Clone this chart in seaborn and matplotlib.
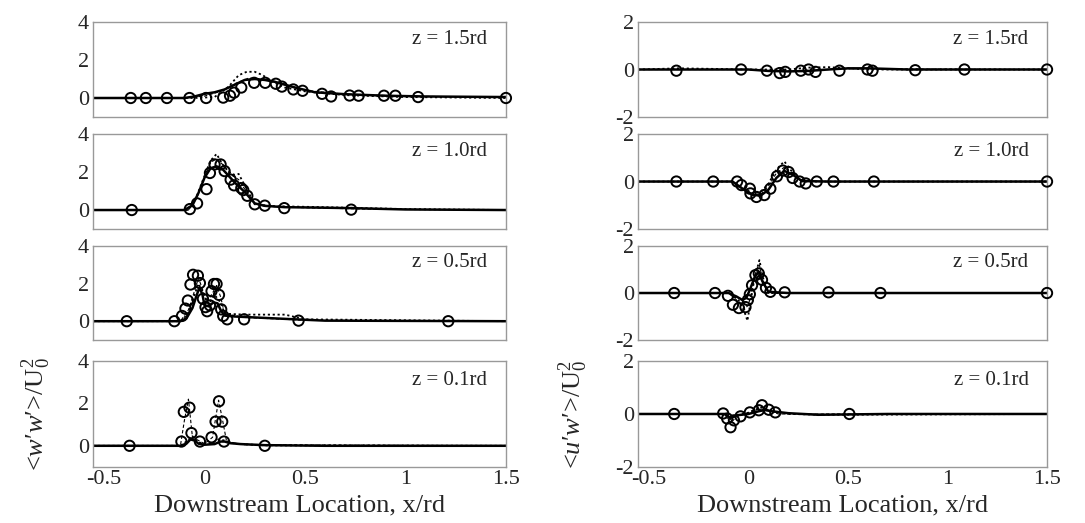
import matplotlib
matplotlib.use('Agg')
import matplotlib.pyplot as plt
import numpy as np
import pandas as pd
import seaborn as sns
from matplotlib.ticker import MultipleLocator

sns.set_style('white')
plt.rcParams['font.family'] = ['Liberation Serif', 'DejaVu Serif']
plt.rcParams['mathtext.fontset'] = 'custom'
plt.rcParams['mathtext.rm'] = 'Liberation Serif'
plt.rcParams['mathtext.it'] = 'Liberation Serif:italic'
plt.rcParams['axes.unicode_minus'] = False

levels = ['z = 1.5rd', 'z = 1.0rd', 'z = 0.5rd', 'z = 0.1rd']

# ---- <w'w'>/U0^2 (left column) ----
ww_exp_x = [
    [-0.367, -0.292, -0.187, -0.075, 0.008, 0.093, 0.127, 0.147, 0.183, 0.247, 0.302, 0.355,
     0.385, 0.442, 0.488, 0.585, 0.63, 0.722, 0.767, 0.893, 0.95, 1.063, 1.5],
    [-0.362, -0.073, -0.037, 0.01, 0.027, 0.05, 0.08, 0.1, 0.13, 0.147, 0.183, 0.193, 0.213,
     0.25, 0.3, 0.397, 0.73],
    [-0.387, -0.15, -0.112, -0.095, -0.083, -0.07, -0.057, -0.033, -0.023, -0.008, 0.005, 0.013,
     0.027, 0.035, 0.047, 0.06, 0.072, 0.083, 0.093, 0.113, 0.197, 0.468, 1.213],
    [-0.373, -0.115, -0.103, -0.075, -0.065, -0.023, 0.035, 0.055, 0.072, 0.088, 0.097, 0.3],
]
ww_exp_y = [
    [0.0, 0.0, 0.0, 0.0, 0.0, 0.02, 0.12, 0.28, 0.55, 0.8, 0.8, 0.75, 0.6, 0.45, 0.38, 0.22,
     0.08, 0.13, 0.12, 0.12, 0.12, 0.05, 0.0],
    [0.0, 0.05, 0.35, 1.1, 1.95, 2.4, 2.4, 2.05, 1.6, 1.3, 1.15, 1.05, 0.75, 0.3, 0.23, 0.1, 0.02],
    [0.0, 0.0, 0.28, 0.67, 1.1, 1.95, 2.47, 2.42, 2.03, 1.19, 0.75, 0.53, 0.84, 1.6, 1.98, 1.98,
     1.4, 0.63, 0.28, 0.1, 0.1, 0.03, 0.0],
    [0.0, 0.2, 1.6, 1.8, 0.6, 0.2, 0.4, 1.14, 2.1, 1.14, 0.2, 0.0],
]
ww_solid_x = [
    [-0.555, -0.1, -0.05, 0.0, 0.05, 0.1, 0.15, 0.2, 0.25, 0.3, 0.35, 0.45, 0.55, 0.7, 0.9, 1.1, 1.5],
    [-0.555, -0.1, -0.06, -0.03, 0.0, 0.03, 0.06, 0.09, 0.12, 0.15, 0.2, 0.25, 0.3, 0.4, 0.55, 0.73, 1.0, 1.5],
    [-0.555, -0.12, -0.09, -0.06, -0.04, -0.025, -0.01, 0.0, 0.02, 0.045, 0.065, 0.08, 0.1, 0.15,
     0.25, 0.45, 0.6, 1.5],
    [-0.555, -0.12, -0.09, -0.07, -0.05, -0.03, 0.0, 0.05, 0.08, 0.1, 0.13, 0.18, 0.3, 0.6, 1.5],
]
ww_solid_y = [
    [0.0, 0.0, 0.08, 0.22, 0.3, 0.45, 0.7, 0.95, 1.0, 0.95, 0.85, 0.55, 0.3, 0.2, 0.12, 0.08, 0.05],
    [0.0, 0.0, 0.25, 0.9, 1.7, 2.2, 2.3, 2.15, 1.8, 1.45, 0.95, 0.35, 0.22, 0.15, 0.13, 0.1, 0.03, 0.0],
    [0.0, 0.0, 0.15, 0.7, 1.35, 1.8, 1.4, 0.85, 0.8, 1.0, 0.95, 0.6, 0.3, 0.25, 0.2, 0.1, 0.03, 0.0],
    [0.0, 0.0, 0.1, 0.3, 0.25, 0.1, 0.05, 0.08, 0.2, 0.2, 0.12, 0.08, 0.03, 0.0, 0.0],
]
ww_dash_x = [
    [-0.555, -0.1, 0.0, 0.08, 0.15, 0.22, 0.3, 0.38, 0.5, 0.7, 1.0, 1.5],
    [-0.555, -0.08, -0.04, 0.0, 0.03, 0.06, 0.1, 0.14, 0.17, 0.2, 0.25, 0.3, 0.5, 0.8, 1.5],
    [-0.555, -0.12, -0.08, -0.05, -0.03, -0.01, 0.01, 0.04, 0.06, 0.08, 0.1, 0.2, 0.5, 1.5],
    [-0.555, -0.12, -0.1, -0.08, -0.06, 0.0, 0.04, 0.07, 0.09, 0.11, 0.2, 1.5],
]
ww_dash_y = [
    [0.0, 0.0, 0.1, 0.35, 0.75, 1.05, 1.0, 0.8, 0.4, 0.2, 0.1, 0.03],
    [0.0, 0.0, 0.6, 1.7, 2.5, 2.7, 2.3, 1.8, 1.6, 1.1, 0.35, 0.2, 0.12, 0.05, 0.0],
    [0.0, 0.0, 0.6, 1.6, 2.3, 1.7, 1.0, 1.5, 1.9, 1.3, 0.4, 0.2, 0.05, 0.0],
    [0.0, 0.0, 1.2, 2.2, 0.4, 0.1, 0.4, 2.15, 1.2, 0.2, 0.05, 0.0],
]
ww_dot_x = [
    [-0.555, -0.05, 0.05, 0.12, 0.17, 0.21, 0.25, 0.29, 0.33, 0.4, 0.5, 0.7, 1.0, 1.5],
    [-0.555, -0.08, -0.04, 0.0, 0.03, 0.06, 0.09, 0.12, 0.15, 0.17, 0.2, 0.25, 0.35, 0.6, 1.0, 1.5],
    [-0.555, -0.12, -0.08, -0.05, -0.03, -0.01, 0.02, 0.05, 0.08, 0.1, 0.2, 0.4, 0.5, 1.5],
    [-0.555, -0.12, -0.09, -0.06, -0.03, 0.03, 0.07, 0.1, 0.15, 0.3, 1.5],
]
ww_dot_y = [
    [0.0, 0.0, 0.05, 0.6, 1.2, 1.38, 1.38, 1.2, 0.9, 0.55, 0.35, 0.15, 0.05, 0.0],
    [0.0, 0.0, 0.7, 1.8, 2.6, 2.95, 2.4, 2.0, 1.85, 1.9, 1.3, 0.3, 0.2, 0.15, 0.05, 0.0],
    [0.0, 0.0, 0.4, 1.4, 2.0, 1.6, 0.9, 1.4, 1.0, 0.4, 0.35, 0.35, 0.1, 0.0],
    [0.0, 0.0, 0.2, 0.45, 0.15, 0.1, 0.3, 0.25, 0.1, 0.02, 0.0],
]

# ---- <u'w'>/U0^2 (right column) ----
uw_exp_x = [
    [-0.362, -0.037, 0.093, 0.157, 0.185, 0.263, 0.302, 0.337, 0.457, 0.598, 0.623, 0.838, 1.085, 1.5],
    [-0.362, -0.177, -0.057, -0.035, 0.007, 0.01, 0.04, 0.08, 0.11, 0.143, 0.173, 0.202, 0.222,
     0.257, 0.288, 0.343, 0.427, 0.63, 1.5],
    [-0.373, -0.168, -0.103, -0.078, -0.048, -0.015, -0.003, 0.007, 0.018, 0.035, 0.052, 0.068,
     0.088, 0.11, 0.182, 0.402, 0.663, 1.5],
    [-0.373, -0.127, -0.107, -0.09, -0.073, -0.04, 0.007, 0.052, 0.068, 0.102, 0.135, 0.507],
]
uw_exp_y = [
    [-0.05, 0.0, -0.05, -0.15, -0.1, -0.05, 0.0, -0.1, -0.05, 0.0, -0.05, -0.03, 0.0, 0.0],
    [0.0, 0.0, 0.0, -0.15, -0.3, -0.5, -0.65, -0.57, -0.3, 0.22, 0.46, 0.4, 0.15, 0.0, -0.08,
     0.0, 0.0, 0.0, 0.0],
    [0.0, 0.0, -0.12, -0.5, -0.64, -0.6, -0.3, -0.05, 0.33, 0.76, 0.83, 0.56, 0.22, 0.05, 0.03,
     0.03, 0.0, 0.0],
    [0.0, 0.02, -0.17, -0.5, -0.24, -0.09, 0.06, 0.14, 0.33, 0.16, 0.06, 0.0],
]
uw_solid_x = [
    [-0.555, 0.0, 0.1, 0.2, 0.3, 0.4, 0.5, 0.6, 0.8, 1.5],
    [-0.555, -0.08, -0.03, 0.02, 0.06, 0.1, 0.14, 0.18, 0.22, 0.27, 0.4, 1.5],
    [-0.555, -0.1, -0.06, -0.03, -0.01, 0.01, 0.03, 0.05, 0.07, 0.1, 0.2, 1.5],
    [-0.555, -0.12, -0.09, -0.06, 0.0, 0.05, 0.08, 0.12, 0.2, 0.35, 0.7, 1.5],
]
uw_solid_y = [
    [0.0, 0.0, -0.06, -0.08, -0.06, 0.0, 0.05, 0.05, 0.0, 0.0],
    [0.0, 0.0, -0.3, -0.55, -0.6, -0.35, 0.15, 0.45, 0.3, 0.02, 0.0, 0.0],
    [0.0, 0.0, -0.15, -0.3, -0.2, 0.2, 0.65, 0.9, 0.5, 0.05, 0.0, 0.0],
    [0.0, 0.0, -0.15, -0.05, 0.0, 0.1, 0.15, 0.1, 0.03, -0.03, 0.0, 0.0],
]
uw_dash_x = [
    [-0.555, 0.0, 0.15, 0.3, 0.5, 1.5],
    [-0.555, -0.08, -0.03, 0.02, 0.06, 0.1, 0.14, 0.18, 0.22, 0.27, 1.5],
    [-0.555, -0.1, -0.06, -0.02, 0.0, 0.02, 0.04, 0.055, 0.07, 0.1, 1.5],
    [-0.555, -0.12, -0.09, -0.06, 0.0, 0.06, 0.1, 0.15, 1.5],
]
uw_dash_y = [
    [0.0, 0.0, -0.08, -0.03, 0.03, 0.0],
    [0.0, 0.0, -0.35, -0.6, -0.55, -0.2, 0.35, 0.6, 0.3, 0.0, 0.0],
    [0.0, 0.0, -0.3, -0.7, -0.5, 0.2, 1.0, 1.2, 0.6, 0.0, 0.0],
    [0.0, 0.0, -0.35, -0.1, 0.05, 0.3, 0.15, 0.0, 0.0],
]
uw_dot_x = [
    [-0.555, -0.35, -0.2, 0.0, 0.2, 0.3, 0.4, 0.5, 0.6, 1.5],
    [-0.555, -0.08, -0.03, 0.02, 0.06, 0.1, 0.14, 0.18, 0.22, 0.27, 1.5],
    [-0.555, -0.1, -0.05, -0.02, -0.005, 0.01, 0.03, 0.055, 0.075, 0.1, 1.5],
    [-0.555, -0.12, -0.09, -0.06, 0.0, 0.07, 0.12, 0.2, 0.4, 1.5],
]
uw_dot_y = [
    [0.0, 0.05, 0.03, 0.0, 0.0, 0.08, 0.1, 0.05, 0.0, 0.0],
    [0.0, 0.0, -0.25, -0.5, -0.45, -0.1, 0.5, 0.85, 0.4, 0.0, 0.0],
    [0.0, 0.0, -0.3, -0.8, -1.18, -0.4, 0.6, 1.4, 0.6, 0.0, 0.0],
    [0.0, 0.0, -0.2, -0.05, 0.05, 0.25, 0.1, 0.0, -0.03, 0.0],
]

fig = plt.figure(figsize=(10.85, 5.23), dpi=100)
rows = [(0.7763, 0.1816), (0.5621, 0.1816), (0.3499, 0.1797), (0.1071, 0.2027)]
cols = [(0.0857, 0.3806), (0.588, 0.377)]
ylims = [(-1, 4), (-2, 2)]
yticks = [[0, 2, 4], [-2, 0, 2]]
groups = [
    (ww_exp_x, ww_exp_y, ww_solid_x, ww_solid_y, ww_dash_x, ww_dash_y, ww_dot_x, ww_dot_y),
    (uw_exp_x, uw_exp_y, uw_solid_x, uw_solid_y, uw_dash_x, uw_dash_y, uw_dot_x, uw_dot_y),
]
ylabels = [r"<$w$′$w$′>/U$_0^2$", r"<$u$′$w$′>/U$_0^2$"]
frame = '#999999'

for c, (x0, w) in enumerate(cols):
    ex, ey, sx, sy, dx, dy, px, py = groups[c]
    for r, (y0, h) in enumerate(rows):
        ax = fig.add_axes([x0, y0, w, h])
        dot = pd.DataFrame({'x': px[r], 'y': py[r]})
        dash = pd.DataFrame({'x': dx[r], 'y': dy[r]})
        solid = pd.DataFrame({'x': sx[r], 'y': sy[r]})
        exp = pd.DataFrame({'x': ex[r], 'y': ey[r]})
        sns.lineplot(data=dot, x='x', y='y', ax=ax, color='black', lw=1.3,
                     linestyle=(0, (1.2, 1.5)), sort=False)
        sns.lineplot(data=dash, x='x', y='y', ax=ax, color='black', lw=0.8,
                     linestyle=(0, (3, 2)), sort=False)
        sns.lineplot(data=solid, x='x', y='y', ax=ax, color='black', lw=1.8, sort=False)
        sns.scatterplot(data=exp, x='x', y='y', ax=ax, marker='o', s=55,
                        facecolor='none', edgecolor='black', linewidth=1.4,
                        clip_on=False, zorder=5)
        ax.set_xlim(-0.555, 1.5)
        ax.set_ylim(*ylims[c])
        ax.set_yticks(yticks[c])
        ax.set_xticks([-0.5, 0, 0.5, 1, 1.5])
        ax.xaxis.set_minor_locator(MultipleLocator(0.1))
        ax.tick_params(direction='in', length=2, width=1, color='#555555',
                       labelsize=16, pad=2)
        ax.tick_params(which='minor', direction='in', length=1.5, color='#aaaaaa')
        ax.tick_params(axis='y', length=0, pad=3)
        for sp in ax.spines.values():
            sp.set_color(frame)
            sp.set_linewidth(1.0)
        ax.set_xlabel('')
        ax.set_ylabel('')
        if r < 3:
            ax.set_xticklabels([])
        else:
            ax.set_xticklabels(['-0.5', '0', '0.5', '1', '1.5'])
            ax.set_xlabel('Downstream Location, x/rd', fontsize=19, labelpad=4)
            ax.set_ylabel(ylabels[c], fontsize=19, labelpad=18)
        ax.text(0.955, 0.82, levels[r], transform=ax.transAxes, ha='right',
                va='center', fontsize=15)

fig.savefig('out.png', dpi=100)
